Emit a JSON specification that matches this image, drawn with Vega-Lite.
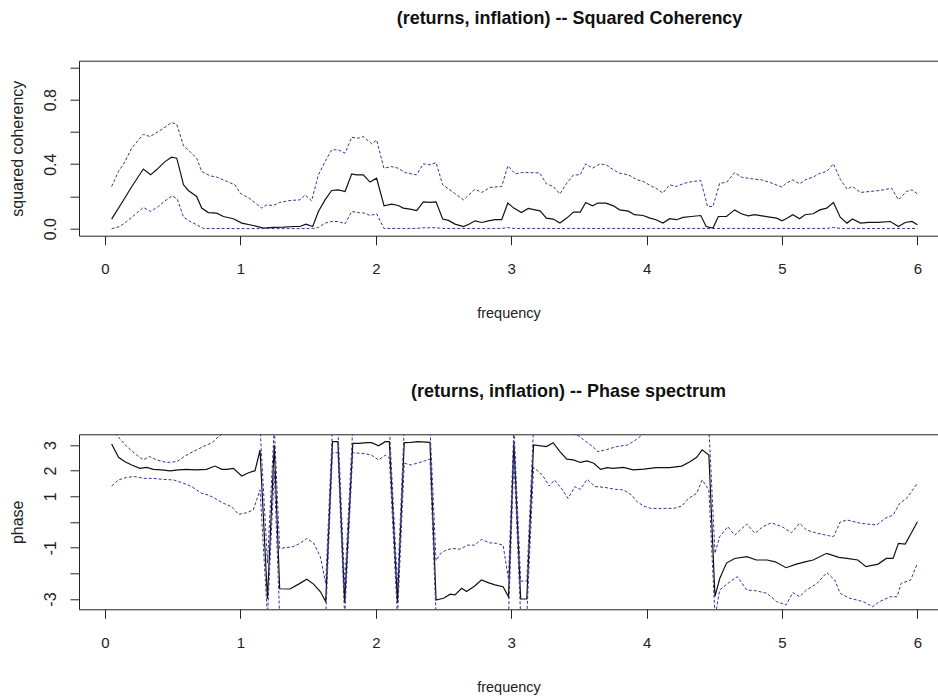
{
 "$schema": "https://vega.github.io/schema/vega-lite/v6.json",
 "background": "white",
 "autosize": {"type": "pad"},
 "padding": {"left": 9, "top": 9.7, "right": 0, "bottom": 0},
 "spacing": 62.6,
 "config": {
  "view": {"stroke": null},
  "font": "Liberation Sans",
  "axis": {"domainColor": "#222", "tickColor": "#222", "labelColor": "#222", "titleColor": "#222", "grid": false, "tickSize": 9, "domainWidth": 1, "tickWidth": 1, "labelFont": "Liberation Sans", "titleFont": "Liberation Sans", "titleFontWeight": "normal", "labelFlush": false, "labelOverlap": false}
 },
 "datasets": {
  "coh": [
   {"s":"est","f":0.049,"v":0.06},{"s":"est","f":0.135,"v":0.175},{"s":"est","f":0.197,"v":0.26},{"s":"est","f":0.283,"v":0.37},{"s":"est","f":0.337,"v":0.334},{"s":"est","f":0.38,"v":0.365},{"s":"est","f":0.443,"v":0.416},{"s":"est","f":0.492,"v":0.443},{"s":"est","f":0.53,"v":0.437},{"s":"est","f":0.58,"v":0.272},{"s":"est","f":0.615,"v":0.237},{"s":"est","f":0.677,"v":0.2},{"s":"est","f":0.714,"v":0.128},{"s":"est","f":0.763,"v":0.1},{"s":"est","f":0.825,"v":0.097},{"s":"est","f":0.874,"v":0.076},{"s":"est","f":0.948,"v":0.062},{"s":"est","f":1.01,"v":0.035},{"s":"est","f":1.095,"v":0.02},{"s":"est","f":1.17,"v":0.004},{"s":"est","f":1.243,"v":0.008},{"s":"est","f":1.317,"v":0.01},{"s":"est","f":1.39,"v":0.014},{"s":"est","f":1.44,"v":0.014},{"s":"est","f":1.484,"v":0.029},{"s":"est","f":1.534,"v":0.014},{"s":"est","f":1.576,"v":0.107},{"s":"est","f":1.625,"v":0.179},{"s":"est","f":1.674,"v":0.237},{"s":"est","f":1.723,"v":0.241},{"s":"est","f":1.773,"v":0.231},{"s":"est","f":1.822,"v":0.34},{"s":"est","f":1.859,"v":0.334},{"s":"est","f":1.908,"v":0.334},{"s":"est","f":1.957,"v":0.289},{"s":"est","f":2.006,"v":0.313},{"s":"est","f":2.061,"v":0.142},{"s":"est","f":2.117,"v":0.153},{"s":"est","f":2.166,"v":0.144},{"s":"est","f":2.203,"v":0.128},{"s":"est","f":2.253,"v":0.122},{"s":"est","f":2.302,"v":0.113},{"s":"est","f":2.351,"v":0.167},{"s":"est","f":2.4,"v":0.163},{"s":"est","f":2.445,"v":0.167},{"s":"est","f":2.494,"v":0.06},{"s":"est","f":2.536,"v":0.052},{"s":"est","f":2.585,"v":0.029},{"s":"est","f":2.647,"v":0.014},{"s":"est","f":2.691,"v":0.029},{"s":"est","f":2.733,"v":0.049},{"s":"est","f":2.782,"v":0.039},{"s":"est","f":2.831,"v":0.049},{"s":"est","f":2.88,"v":0.056},{"s":"est","f":2.93,"v":0.056},{"s":"est","f":2.975,"v":0.159},{"s":"est","f":3.02,"v":0.128},{"s":"est","f":3.075,"v":0.1},{"s":"est","f":3.126,"v":0.126},{"s":"est","f":3.176,"v":0.117},{"s":"est","f":3.213,"v":0.111},{"s":"est","f":3.26,"v":0.066},{"s":"est","f":3.31,"v":0.06},{"s":"est","f":3.36,"v":0.035},{"s":"est","f":3.41,"v":0.066},{"s":"est","f":3.46,"v":0.103},{"s":"est","f":3.51,"v":0.103},{"s":"est","f":3.55,"v":0.163},{"s":"est","f":3.6,"v":0.142},{"s":"est","f":3.64,"v":0.159},{"s":"est","f":3.7,"v":0.159},{"s":"est","f":3.755,"v":0.142},{"s":"est","f":3.8,"v":0.117},{"s":"est","f":3.865,"v":0.109},{"s":"est","f":3.91,"v":0.087},{"s":"est","f":3.975,"v":0.082},{"s":"est","f":4.025,"v":0.066},{"s":"est","f":4.07,"v":0.056},{"s":"est","f":4.12,"v":0.035},{"s":"est","f":4.17,"v":0.062},{"s":"est","f":4.22,"v":0.056},{"s":"est","f":4.27,"v":0.07},{"s":"est","f":4.33,"v":0.076},{"s":"est","f":4.4,"v":0.082},{"s":"est","f":4.44,"v":0.014},{"s":"est","f":4.49,"v":0.004},{"s":"est","f":4.53,"v":0.076},{"s":"est","f":4.59,"v":0.076},{"s":"est","f":4.65,"v":0.117},{"s":"est","f":4.7,"v":0.093},{"s":"est","f":4.75,"v":0.08},{"s":"est","f":4.8,"v":0.087},{"s":"est","f":4.85,"v":0.08},{"s":"est","f":4.91,"v":0.072},{"s":"est","f":4.96,"v":0.066},{"s":"est","f":5.0,"v":0.049},{"s":"est","f":5.03,"v":0.062},{"s":"est","f":5.08,"v":0.087},{"s":"est","f":5.13,"v":0.062},{"s":"est","f":5.17,"v":0.087},{"s":"est","f":5.23,"v":0.093},{"s":"est","f":5.28,"v":0.117},{"s":"est","f":5.33,"v":0.128},{"s":"est","f":5.38,"v":0.163},{"s":"est","f":5.43,"v":0.072},{"s":"est","f":5.48,"v":0.035},{"s":"est","f":5.52,"v":0.06},{"s":"est","f":5.58,"v":0.035},{"s":"est","f":5.64,"v":0.039},{"s":"est","f":5.71,"v":0.039},{"s":"est","f":5.8,"v":0.045},{"s":"est","f":5.86,"v":0.014},{"s":"est","f":5.91,"v":0.039},{"s":"est","f":5.96,"v":0.045},{"s":"est","f":6.0,"v":0.025},
   {"s":"up","f":0.049,"v":0.262},{"s":"up","f":0.1,"v":0.355},{"s":"up","f":0.148,"v":0.416},{"s":"up","f":0.197,"v":0.5},{"s":"up","f":0.283,"v":0.585},{"s":"up","f":0.333,"v":0.571},{"s":"up","f":0.394,"v":0.602},{"s":"up","f":0.443,"v":0.629},{"s":"up","f":0.49,"v":0.658},{"s":"up","f":0.53,"v":0.647},{"s":"up","f":0.58,"v":0.513},{"s":"up","f":0.64,"v":0.468},{"s":"up","f":0.677,"v":0.437},{"s":"up","f":0.714,"v":0.355},{"s":"up","f":0.776,"v":0.328},{"s":"up","f":0.825,"v":0.32},{"s":"up","f":0.9,"v":0.293},{"s":"up","f":0.96,"v":0.272},{"s":"up","f":0.997,"v":0.221},{"s":"up","f":1.07,"v":0.186},{"s":"up","f":1.157,"v":0.128},{"s":"up","f":1.194,"v":0.148},{"s":"up","f":1.243,"v":0.144},{"s":"up","f":1.29,"v":0.163},{"s":"up","f":1.366,"v":0.175},{"s":"up","f":1.44,"v":0.179},{"s":"up","f":1.477,"v":0.21},{"s":"up","f":1.526,"v":0.173},{"s":"up","f":1.576,"v":0.334},{"s":"up","f":1.625,"v":0.416},{"s":"up","f":1.674,"v":0.489},{"s":"up","f":1.723,"v":0.489},{"s":"up","f":1.773,"v":0.468},{"s":"up","f":1.822,"v":0.567},{"s":"up","f":1.871,"v":0.561},{"s":"up","f":1.908,"v":0.571},{"s":"up","f":1.97,"v":0.526},{"s":"up","f":2.006,"v":0.55},{"s":"up","f":2.06,"v":0.375},{"s":"up","f":2.117,"v":0.385},{"s":"up","f":2.166,"v":0.375},{"s":"up","f":2.216,"v":0.348},{"s":"up","f":2.3,"v":0.334},{"s":"up","f":2.351,"v":0.402},{"s":"up","f":2.4,"v":0.396},{"s":"up","f":2.445,"v":0.41},{"s":"up","f":2.494,"v":0.272},{"s":"up","f":2.548,"v":0.241},{"s":"up","f":2.597,"v":0.21},{"s":"up","f":2.647,"v":0.179},{"s":"up","f":2.733,"v":0.245},{"s":"up","f":2.782,"v":0.225},{"s":"up","f":2.843,"v":0.256},{"s":"up","f":2.93,"v":0.262},{"s":"up","f":2.975,"v":0.39},{"s":"up","f":3.03,"v":0.34},{"s":"up","f":3.077,"v":0.348},{"s":"up","f":3.126,"v":0.348},{"s":"up","f":3.21,"v":0.346},{"s":"up","f":3.26,"v":0.278},{"s":"up","f":3.31,"v":0.262},{"s":"up","f":3.36,"v":0.216},{"s":"up","f":3.41,"v":0.282},{"s":"up","f":3.46,"v":0.334},{"s":"up","f":3.51,"v":0.334},{"s":"up","f":3.55,"v":0.402},{"s":"up","f":3.6,"v":0.375},{"s":"up","f":3.656,"v":0.402},{"s":"up","f":3.7,"v":0.396},{"s":"up","f":3.755,"v":0.365},{"s":"up","f":3.8,"v":0.344},{"s":"up","f":3.865,"v":0.334},{"s":"up","f":3.93,"v":0.303},{"s":"up","f":3.975,"v":0.293},{"s":"up","f":4.04,"v":0.262},{"s":"up","f":4.07,"v":0.251},{"s":"up","f":4.12,"v":0.221},{"s":"up","f":4.17,"v":0.272},{"s":"up","f":4.22,"v":0.262},{"s":"up","f":4.28,"v":0.282},{"s":"up","f":4.34,"v":0.293},{"s":"up","f":4.4,"v":0.299},{"s":"up","f":4.45,"v":0.138},{"s":"up","f":4.49,"v":0.138},{"s":"up","f":4.54,"v":0.282},{"s":"up","f":4.59,"v":0.287},{"s":"up","f":4.65,"v":0.348},{"s":"up","f":4.7,"v":0.32},{"s":"up","f":4.75,"v":0.313},{"s":"up","f":4.8,"v":0.307},{"s":"up","f":4.85,"v":0.303},{"s":"up","f":4.91,"v":0.287},{"s":"up","f":5.0,"v":0.258},{"s":"up","f":5.03,"v":0.282},{"s":"up","f":5.08,"v":0.303},{"s":"up","f":5.13,"v":0.278},{"s":"up","f":5.17,"v":0.303},{"s":"up","f":5.23,"v":0.32},{"s":"up","f":5.28,"v":0.344},{"s":"up","f":5.33,"v":0.355},{"s":"up","f":5.38,"v":0.402},{"s":"up","f":5.43,"v":0.307},{"s":"up","f":5.48,"v":0.245},{"s":"up","f":5.52,"v":0.262},{"s":"up","f":5.58,"v":0.225},{"s":"up","f":5.65,"v":0.231},{"s":"up","f":5.72,"v":0.237},{"s":"up","f":5.81,"v":0.251},{"s":"up","f":5.86,"v":0.179},{"s":"up","f":5.92,"v":0.231},{"s":"up","f":5.96,"v":0.241},{"s":"up","f":6.0,"v":0.216},
   {"s":"lo","f":0.049,"v":0.0},{"s":"lo","f":0.11,"v":0.014},{"s":"lo","f":0.16,"v":0.045},{"s":"lo","f":0.22,"v":0.087},{"s":"lo","f":0.283,"v":0.132},{"s":"lo","f":0.337,"v":0.107},{"s":"lo","f":0.394,"v":0.138},{"s":"lo","f":0.443,"v":0.173},{"s":"lo","f":0.497,"v":0.204},{"s":"lo","f":0.534,"v":0.183},{"s":"lo","f":0.58,"v":0.072},{"s":"lo","f":0.628,"v":0.045},{"s":"lo","f":0.677,"v":0.025},{"s":"lo","f":0.726,"v":0.002},{"s":"lo","f":1.0,"v":0.001},{"s":"lo","f":1.3,"v":0.001},{"s":"lo","f":1.534,"v":0.001},{"s":"lo","f":1.576,"v":0.008},{"s":"lo","f":1.625,"v":0.035},{"s":"lo","f":1.674,"v":0.045},{"s":"lo","f":1.723,"v":0.045},{"s":"lo","f":1.773,"v":0.031},{"s":"lo","f":1.822,"v":0.107},{"s":"lo","f":1.871,"v":0.1},{"s":"lo","f":1.92,"v":0.097},{"s":"lo","f":1.957,"v":0.082},{"s":"lo","f":2.006,"v":0.093},{"s":"lo","f":2.06,"v":0.002},{"s":"lo","f":2.3,"v":0.002},{"s":"lo","f":2.35,"v":0.006},{"s":"lo","f":2.445,"v":0.006},{"s":"lo","f":2.494,"v":0.002},{"s":"lo","f":2.93,"v":0.002},{"s":"lo","f":2.975,"v":0.007},{"s":"lo","f":3.02,"v":0.002},{"s":"lo","f":5.33,"v":0.002},{"s":"lo","f":5.38,"v":0.008},{"s":"lo","f":5.43,"v":0.002},{"s":"lo","f":6.0,"v":0.002}
  ],
  "phase": [
   {"s":"est","f":0.049,"v":3.04},{"s":"est","f":0.1,"v":2.52},{"s":"est","f":0.148,"v":2.35},{"s":"est","f":0.197,"v":2.22},{"s":"est","f":0.258,"v":2.09},{"s":"est","f":0.308,"v":2.13},{"s":"est","f":0.357,"v":2.05},{"s":"est","f":0.418,"v":2.03},{"s":"est","f":0.48,"v":1.99},{"s":"est","f":0.542,"v":2.03},{"s":"est","f":0.603,"v":2.05},{"s":"est","f":0.665,"v":2.03},{"s":"est","f":0.75,"v":2.05},{"s":"est","f":0.812,"v":2.18},{"s":"est","f":0.862,"v":2.05},{"s":"est","f":0.9,"v":2.05},{"s":"est","f":0.948,"v":2.09},{"s":"est","f":1.01,"v":1.79},{"s":"est","f":1.06,"v":1.92},{"s":"est","f":1.108,"v":2.0},{"s":"est","f":1.145,"v":2.8},{"s":"est","f":1.2,"v":-3.0},{"s":"est","f":1.25,"v":3.0},{"s":"est","f":1.29,"v":-2.6},{"s":"est","f":1.366,"v":-2.61},{"s":"est","f":1.43,"v":-2.42},{"s":"est","f":1.49,"v":-2.23},{"s":"est","f":1.54,"v":-2.42},{"s":"est","f":1.59,"v":-2.71},{"s":"est","f":1.63,"v":-3.1},{"s":"est","f":1.68,"v":3.13},{"s":"est","f":1.72,"v":3.13},{"s":"est","f":1.77,"v":-3.14},{"s":"est","f":1.83,"v":3.06},{"s":"est","f":1.88,"v":3.06},{"s":"est","f":1.93,"v":3.09},{"s":"est","f":1.97,"v":3.09},{"s":"est","f":2.02,"v":2.97},{"s":"est","f":2.07,"v":3.13},{"s":"est","f":2.1,"v":3.13},{"s":"est","f":2.16,"v":-3.14},{"s":"est","f":2.21,"v":3.09},{"s":"est","f":2.26,"v":3.1},{"s":"est","f":2.31,"v":3.13},{"s":"est","f":2.4,"v":3.1},{"s":"est","f":2.445,"v":-3.04},{"s":"est","f":2.5,"v":-2.97},{"s":"est","f":2.55,"v":-2.81},{"s":"est","f":2.585,"v":-2.84},{"s":"est","f":2.634,"v":-2.58},{"s":"est","f":2.67,"v":-2.71},{"s":"est","f":2.73,"v":-2.49},{"s":"est","f":2.78,"v":-2.26},{"s":"est","f":2.83,"v":-2.36},{"s":"est","f":2.88,"v":-2.45},{"s":"est","f":2.94,"v":-2.52},{"s":"est","f":2.98,"v":-2.91},{"s":"est","f":3.02,"v":3.1},{"s":"est","f":3.07,"v":-3.0},{"s":"est","f":3.115,"v":-3.0},{"s":"est","f":3.165,"v":3.0},{"s":"est","f":3.26,"v":2.94},{"s":"est","f":3.31,"v":3.09},{"s":"est","f":3.36,"v":2.74},{"s":"est","f":3.41,"v":2.45},{"s":"est","f":3.46,"v":2.42},{"s":"est","f":3.51,"v":2.32},{"s":"est","f":3.56,"v":2.38},{"s":"est","f":3.61,"v":2.29},{"s":"est","f":3.66,"v":2.05},{"s":"est","f":3.71,"v":2.12},{"s":"est","f":3.75,"v":2.09},{"s":"est","f":3.83,"v":2.13},{"s":"est","f":3.9,"v":2.03},{"s":"est","f":3.98,"v":2.06},{"s":"est","f":4.07,"v":2.12},{"s":"est","f":4.17,"v":2.12},{"s":"est","f":4.26,"v":2.18},{"s":"est","f":4.32,"v":2.35},{"s":"est","f":4.37,"v":2.52},{"s":"est","f":4.41,"v":2.81},{"s":"est","f":4.46,"v":2.61},{"s":"est","f":4.505,"v":-2.9},{"s":"est","f":4.54,"v":-2.2},{"s":"est","f":4.59,"v":-1.6},{"s":"est","f":4.65,"v":-1.42},{"s":"est","f":4.74,"v":-1.35},{"s":"est","f":4.81,"v":-1.48},{"s":"est","f":4.89,"v":-1.48},{"s":"est","f":4.95,"v":-1.55},{"s":"est","f":5.03,"v":-1.78},{"s":"est","f":5.1,"v":-1.65},{"s":"est","f":5.17,"v":-1.55},{"s":"est","f":5.23,"v":-1.48},{"s":"est","f":5.33,"v":-1.22},{"s":"est","f":5.42,"v":-1.38},{"s":"est","f":5.48,"v":-1.42},{"s":"est","f":5.56,"v":-1.48},{"s":"est","f":5.62,"v":-1.74},{"s":"est","f":5.71,"v":-1.64},{"s":"est","f":5.77,"v":-1.42},{"s":"est","f":5.82,"v":-1.42},{"s":"est","f":5.86,"v":-0.83},{"s":"est","f":5.91,"v":-0.86},{"s":"est","f":5.96,"v":-0.38},{"s":"est","f":6.0,"v":0.01},
   {"s":"up","f":0.049,"v":3.6},{"s":"up","f":0.1,"v":3.3},{"s":"up","f":0.16,"v":2.94},{"s":"up","f":0.234,"v":2.61},{"s":"up","f":0.283,"v":2.42},{"s":"up","f":0.33,"v":2.55},{"s":"up","f":0.38,"v":2.42},{"s":"up","f":0.455,"v":2.32},{"s":"up","f":0.53,"v":2.35},{"s":"up","f":0.59,"v":2.57},{"s":"up","f":0.65,"v":2.74},{"s":"up","f":0.726,"v":2.94},{"s":"up","f":0.79,"v":3.09},{"s":"up","f":0.837,"v":3.32},{"s":"up","f":0.9,"v":3.6},{"s":"up","f":1.0,"v":3.8},{"s":"up","f":1.108,"v":3.7},{"s":"up","f":1.145,"v":3.7},{"s":"up","f":1.2,"v":-1.6},{"s":"up","f":1.25,"v":3.7},{"s":"up","f":1.29,"v":-1.03},{"s":"up","f":1.39,"v":-0.96},{"s":"up","f":1.44,"v":-0.83},{"s":"up","f":1.49,"v":-0.64},{"s":"up","f":1.54,"v":-0.81},{"s":"up","f":1.59,"v":-1.35},{"s":"up","f":1.63,"v":-2.39},{"s":"up","f":1.68,"v":3.7},{"s":"up","f":1.72,"v":3.7},{"s":"up","f":1.77,"v":-2.5},{"s":"up","f":1.83,"v":3.7},{"s":"up","f":2.1,"v":3.7},{"s":"up","f":2.16,"v":-2.5},{"s":"up","f":2.21,"v":3.7},{"s":"up","f":2.4,"v":3.7},{"s":"up","f":2.445,"v":-1.5},{"s":"up","f":2.48,"v":-1.22},{"s":"up","f":2.52,"v":-1.09},{"s":"up","f":2.57,"v":-1.03},{"s":"up","f":2.62,"v":-1.06},{"s":"up","f":2.68,"v":-0.9},{"s":"up","f":2.73,"v":-0.9},{"s":"up","f":2.78,"v":-0.68},{"s":"up","f":2.84,"v":-0.81},{"s":"up","f":2.89,"v":-0.83},{"s":"up","f":2.94,"v":-0.9},{"s":"up","f":2.98,"v":-2.23},{"s":"up","f":3.02,"v":3.7},{"s":"up","f":3.07,"v":-2.3},{"s":"up","f":3.115,"v":-2.3},{"s":"up","f":3.165,"v":3.7},{"s":"up","f":3.3,"v":3.6},{"s":"up","f":3.45,"v":3.45},{"s":"up","f":3.5,"v":3.35},{"s":"up","f":3.56,"v":3.1},{"s":"up","f":3.6,"v":2.95},{"s":"up","f":3.64,"v":2.74},{"s":"up","f":3.71,"v":2.83},{"s":"up","f":3.78,"v":2.94},{"s":"up","f":3.86,"v":3.0},{"s":"up","f":3.92,"v":3.2},{"s":"up","f":3.98,"v":3.45},{"s":"up","f":4.1,"v":3.6},{"s":"up","f":4.3,"v":3.7},{"s":"up","f":4.46,"v":3.7},{"s":"up","f":4.505,"v":-1.22},{"s":"up","f":4.54,"v":-0.57},{"s":"up","f":4.6,"v":-0.18},{"s":"up","f":4.65,"v":-0.51},{"s":"up","f":4.74,"v":-0.08},{"s":"up","f":4.8,"v":-0.44},{"s":"up","f":4.86,"v":-0.18},{"s":"up","f":4.92,"v":-0.03},{"s":"up","f":5.0,"v":-0.18},{"s":"up","f":5.07,"v":-0.42},{"s":"up","f":5.13,"v":-0.05},{"s":"up","f":5.18,"v":-0.31},{"s":"up","f":5.26,"v":-0.44},{"s":"up","f":5.38,"v":-0.57},{"s":"up","f":5.43,"v":0.0},{"s":"up","f":5.48,"v":0.08},{"s":"up","f":5.58,"v":-0.05},{"s":"up","f":5.7,"v":-0.12},{"s":"up","f":5.76,"v":0.14},{"s":"up","f":5.82,"v":0.27},{"s":"up","f":5.87,"v":0.73},{"s":"up","f":5.92,"v":0.92},{"s":"up","f":6.0,"v":1.51},
   {"s":"lo","f":0.049,"v":1.4},{"s":"lo","f":0.1,"v":1.64},{"s":"lo","f":0.16,"v":1.74},{"s":"lo","f":0.22,"v":1.77},{"s":"lo","f":0.283,"v":1.7},{"s":"lo","f":0.357,"v":1.7},{"s":"lo","f":0.43,"v":1.66},{"s":"lo","f":0.505,"v":1.64},{"s":"lo","f":0.58,"v":1.51},{"s":"lo","f":0.64,"v":1.38},{"s":"lo","f":0.714,"v":1.12},{"s":"lo","f":0.763,"v":1.05},{"s":"lo","f":0.812,"v":0.92},{"s":"lo","f":0.874,"v":0.73},{"s":"lo","f":0.935,"v":0.6},{"s":"lo","f":0.985,"v":0.3},{"s":"lo","f":1.046,"v":0.36},{"s":"lo","f":1.095,"v":0.47},{"s":"lo","f":1.145,"v":1.25},{"s":"lo","f":1.2,"v":-3.7},{"s":"lo","f":1.25,"v":2.0},{"s":"lo","f":1.29,"v":-3.7},{"s":"lo","f":1.63,"v":-3.7},{"s":"lo","f":1.68,"v":2.7},{"s":"lo","f":1.72,"v":2.7},{"s":"lo","f":1.77,"v":-3.7},{"s":"lo","f":1.83,"v":2.7},{"s":"lo","f":1.88,"v":2.68},{"s":"lo","f":1.93,"v":2.65},{"s":"lo","f":1.97,"v":2.6},{"s":"lo","f":2.02,"v":2.42},{"s":"lo","f":2.07,"v":2.6},{"s":"lo","f":2.1,"v":2.5},{"s":"lo","f":2.16,"v":-3.7},{"s":"lo","f":2.21,"v":2.29},{"s":"lo","f":2.26,"v":2.22},{"s":"lo","f":2.31,"v":2.3},{"s":"lo","f":2.36,"v":2.38},{"s":"lo","f":2.4,"v":2.45},{"s":"lo","f":2.445,"v":-3.7},{"s":"lo","f":2.98,"v":-3.7},{"s":"lo","f":3.02,"v":2.5},{"s":"lo","f":3.07,"v":-3.7},{"s":"lo","f":3.115,"v":-3.7},{"s":"lo","f":3.165,"v":2.13},{"s":"lo","f":3.23,"v":1.83},{"s":"lo","f":3.28,"v":1.4},{"s":"lo","f":3.32,"v":1.64},{"s":"lo","f":3.37,"v":1.31},{"s":"lo","f":3.42,"v":0.92},{"s":"lo","f":3.47,"v":1.38},{"s":"lo","f":3.51,"v":1.27},{"s":"lo","f":3.56,"v":1.66},{"s":"lo","f":3.62,"v":1.38},{"s":"lo","f":3.69,"v":1.35},{"s":"lo","f":3.77,"v":1.27},{"s":"lo","f":3.83,"v":1.25},{"s":"lo","f":3.89,"v":1.05},{"s":"lo","f":3.93,"v":0.79},{"s":"lo","f":3.98,"v":0.62},{"s":"lo","f":4.03,"v":0.53},{"s":"lo","f":4.12,"v":0.53},{"s":"lo","f":4.2,"v":0.53},{"s":"lo","f":4.26,"v":0.62},{"s":"lo","f":4.31,"v":0.92},{"s":"lo","f":4.37,"v":1.12},{"s":"lo","f":4.41,"v":1.64},{"s":"lo","f":4.46,"v":1.25},{"s":"lo","f":4.505,"v":-3.7},{"s":"lo","f":4.54,"v":-2.65},{"s":"lo","f":4.6,"v":-2.39},{"s":"lo","f":4.67,"v":-2.13},{"s":"lo","f":4.74,"v":-2.65},{"s":"lo","f":4.81,"v":-2.68},{"s":"lo","f":4.89,"v":-2.78},{"s":"lo","f":4.96,"v":-3.1},{"s":"lo","f":5.03,"v":-3.23},{"s":"lo","f":5.08,"v":-2.75},{"s":"lo","f":5.13,"v":-2.91},{"s":"lo","f":5.18,"v":-2.65},{"s":"lo","f":5.26,"v":-2.39},{"s":"lo","f":5.33,"v":-1.97},{"s":"lo","f":5.39,"v":-2.26},{"s":"lo","f":5.43,"v":-2.78},{"s":"lo","f":5.5,"v":-2.97},{"s":"lo","f":5.6,"v":-3.1},{"s":"lo","f":5.67,"v":-3.3},{"s":"lo","f":5.72,"v":-3.1},{"s":"lo","f":5.8,"v":-2.91},{"s":"lo","f":5.85,"v":-2.91},{"s":"lo","f":5.88,"v":-2.39},{"s":"lo","f":5.95,"v":-2.26},{"s":"lo","f":6.0,"v":-1.61}
  ]
 },
 "vconcat": [
  {
   "width": 859, "height": 175,
   "data": {"name": "coh"},
   "title": {"text": "(returns, inflation) --  Squared Coherency", "anchor": "middle", "dx": 61, "offset": 19, "baseline": "alphabetic", "font": "Liberation Sans", "fontSize": 18, "fontWeight": "bold", "color": "#111"},
   "layer": [
    {
     "transform": [{"filter": "datum.s == 'est'"}],
     "mark": {"type": "line", "color": "#111", "strokeWidth": 1.2, "clip": true},
     "encoding": {
      "x": {"field": "f", "type": "quantitative", "scale": {"domain": [-0.192, 6.152], "nice": false, "zero": false},
            "axis": {"values": [0,1,2,3,4,5,6], "format": "d", "labelFontSize": 15, "labelPadding": 17, "labelAngle": 0, "labelBaseline": "top", "title": "frequency", "titleFontSize": 14.5, "titleY": 82, "titleBaseline": "alphabetic"}},
      "y": {"field": "v", "type": "quantitative", "scale": {"domain": [-0.043, 1.041], "nice": false, "zero": false},
            "axis": {"values": [0,0.2,0.4,0.6,0.8,1], "labelExpr": "datum.value == 0 ? '0.0' : datum.value == 0.4 ? '0.4' : datum.value == 0.8 ? '0.8' : ''", "labelAngle": 270, "labelAlign": "center", "labelBaseline": "alphabetic", "labelPadding": 15, "labelFontSize": 16, "title": "squared coherency", "titleFontSize": 16, "titleAngle": 270, "titleX": -57, "titleBaseline": "alphabetic"}}
     }
    },
    {
     "transform": [{"filter": "datum.s != 'est'"}],
     "mark": {"type": "line", "color": "#33339a", "strokeWidth": 1, "strokeDash": [3, 2], "clip": true},
     "encoding": {
      "x": {"field": "f", "type": "quantitative", "axis": {"orient": "top", "ticks": false, "labels": false, "title": null, "domain": true}},
      "y": {"field": "v", "type": "quantitative", "axis": null},
      "detail": {"field": "s"}
     }
    }
   ],
   "resolve": {"axis": {"x": "independent", "y": "independent"}}
  },
  {
   "width": 859, "height": 175,
   "data": {"name": "phase"},
   "title": {"text": "(returns, inflation)  -- Phase spectrum", "anchor": "middle", "dx": 60, "offset": 19, "baseline": "alphabetic", "font": "Liberation Sans", "fontSize": 18, "fontWeight": "bold", "color": "#111"},
   "layer": [
    {
     "transform": [{"filter": "datum.s == 'est'"}],
     "mark": {"type": "line", "color": "#111", "strokeWidth": 1.2, "clip": true},
     "encoding": {
      "x": {"field": "f", "type": "quantitative", "scale": {"domain": [-0.192, 6.152], "nice": false, "zero": false},
            "axis": {"values": [0,1,2,3,4,5,6], "format": "d", "labelFontSize": 15, "labelPadding": 17, "labelAngle": 0, "labelBaseline": "top", "title": "frequency", "titleFontSize": 14.5, "titleY": 82, "titleBaseline": "alphabetic"}},
      "y": {"field": "v", "type": "quantitative", "scale": {"domain": [-3.40, 3.417], "nice": false, "zero": false},
            "axis": {"values": [-3,-2,-1,0,1,2,3], "labelExpr": "indexof([3,2,1,-1,-3], datum.value) >= 0 ? toString(datum.value) : ''", "labelAngle": 270, "labelAlign": "center", "labelBaseline": "alphabetic", "labelPadding": 15, "labelFontSize": 16, "title": "phase", "titleFontSize": 16, "titleAngle": 270, "titleX": -57, "titleBaseline": "alphabetic"}}
     }
    },
    {
     "transform": [{"filter": "datum.s != 'est'"}],
     "mark": {"type": "line", "color": "#33339a", "strokeWidth": 1, "strokeDash": [3, 2], "clip": true},
     "encoding": {
      "x": {"field": "f", "type": "quantitative", "axis": {"orient": "top", "ticks": false, "labels": false, "title": null, "domain": true}},
      "y": {"field": "v", "type": "quantitative", "axis": null},
      "detail": {"field": "s"}
     }
    }
   ],
   "resolve": {"axis": {"x": "independent", "y": "independent"}}
  }
 ]
}
